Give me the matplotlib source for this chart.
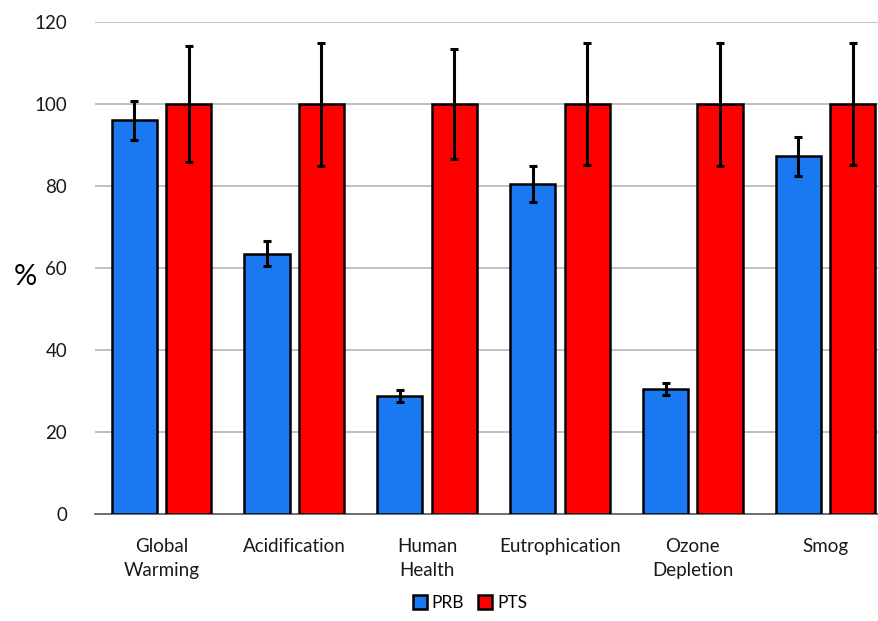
import matplotlib
matplotlib.use("Agg")
import matplotlib.pyplot as plt
import numpy as np

categories = ["Global\nWarming", "Acidification", "Human\nHealth", "Eutrophication", "Ozone\nDepletion", "Smog"]
prb = [96, 63.5, 28.8, 80.5, 30.5, 87.2]
prb_err = [4.7, 3.1, 1.5, 4.3, 1.5, 4.8]
pts = [100, 100, 100, 100, 100, 100]
pts_err = [14.1, 15.0, 13.3, 14.8, 15.0, 14.9]
yticks = [0, 20, 40, 60, 80, 100, 120]

plt.rcParams['font.family'] = ['Lato', 'DejaVu Sans']

fig = plt.figure(figsize=(8.79, 6.21), dpi=100)
ax = fig.add_axes([95/879, 1-514/621, (892-95)/879, (514-22)/621])

x = np.arange(len(categories))
w = 0.34
off = 0.205
ax.bar(x - off, prb, w, color="#1A78F0", edgecolor="black", linewidth=1.8, zorder=3, label="PRB")
ax.bar(x + off, pts, w, color="#FF0000", edgecolor="black", linewidth=1.8, zorder=3, label="PTS")
ax.errorbar(x - off, prb, yerr=prb_err, fmt="none", ecolor="black", elinewidth=2.2, capsize=3, capthick=2.2, zorder=4)
ax.errorbar(x + off, pts, yerr=pts_err, fmt="none", ecolor="black", elinewidth=2.2, capsize=3, capthick=2.2, zorder=4)

ax.set_xlim(-0.5, len(categories) - 0.5)
ax.set_ylim(0, 120)
ax.set_yticks(yticks)
ax.yaxis.grid(True, color="#BBBBBB", linewidth=1.3, zorder=0)
ax.set_axisbelow(True)
for s in ["top", "right", "left"]:
    ax.spines[s].set_visible(False)
ax.spines["bottom"].set_color("#666666")
ax.spines["bottom"].set_linewidth(1.3)
ax.tick_params(axis="y", length=0, pad=20, labelsize=13.5, labelcolor="#1a1a1a")
ax.tick_params(axis="x", length=0, pad=17, labelsize=13.5, labelcolor="#1a1a1a")
ax.set_xticks(x)
ax.set_xticklabels(categories, linespacing=1.55)
fig.text(25/879, 1-277/621, "%", fontsize=21, ha="center", va="center")

leg = ax.legend(loc="center", bbox_to_anchor=(470/879, 1-603/621), bbox_transform=fig.transFigure,
                ncol=2, frameon=False, fontsize=12.5, handlelength=0.8, handleheight=0.8,
                columnspacing=0.8, handletextpad=0.3)
fig.savefig("out.png", dpi=100)
